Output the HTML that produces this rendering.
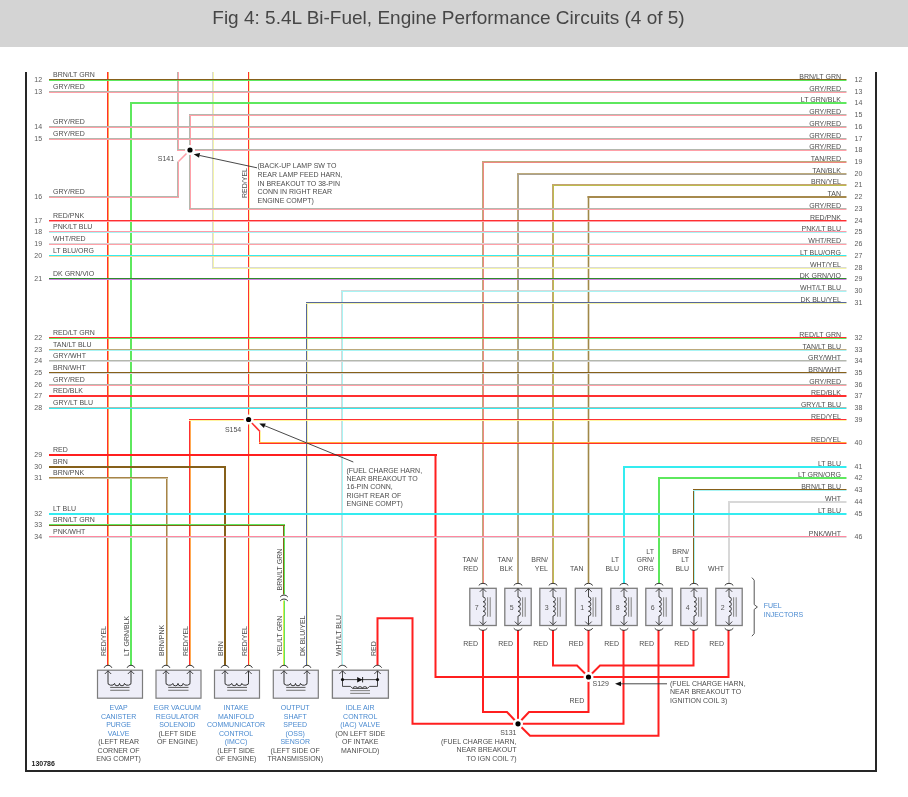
<!DOCTYPE html><html><head><meta charset="utf-8"><title>Fig 4</title><style>
html,body{margin:0;padding:0;background:#fff;width:908px;height:797px;overflow:hidden}
#hdr{position:absolute;left:0;top:0;width:908px;height:47px;background:#d4d4d4}
#hdr h1{margin:0;position:absolute;left:-5.5px;top:8px;width:908px;text-align:center;font:400 19px/1 "Liberation Sans",sans-serif;color:#464646;white-space:nowrap}
svg{position:absolute;left:0;top:0}
svg text{font-family:"Liberation Sans",sans-serif}
</style></head><body>
<div id="hdr"><h1>Fig 4: 5.4L Bi-Fuel, Engine Performance Circuits (4 of 5)</h1></div>
<svg width="908" height="797" viewBox="0 0 908 797" shape-rendering="auto">
<path d="M26,72 V771 H876 V72" fill="none" stroke="#262626" stroke-width="2"/>
<polyline points="377.50,665.50 377.50,618.30 412.50,618.30 412.50,723.80 518.00,723.80" fill="none" stroke="#ff1f1f" stroke-width="2" stroke-linejoin="miter"/>
<polyline points="435.50,455.00 435.50,677.00 588.50,677.00" fill="none" stroke="#ff1f1f" stroke-width="2" stroke-linejoin="miter"/>
<polyline points="483.00,630.00 483.00,712.00 507.00,712.00 518.00,723.80" fill="none" stroke="#ff1f1f" stroke-width="2" stroke-linejoin="miter"/>
<polyline points="518.00,630.00 518.00,723.80" fill="none" stroke="#ff1f1f" stroke-width="2" stroke-linejoin="miter"/>
<polyline points="553.00,630.00 553.00,665.50 577.00,665.50 588.50,677.00" fill="none" stroke="#ff1f1f" stroke-width="2" stroke-linejoin="miter"/>
<polyline points="588.50,630.00 588.50,677.00" fill="none" stroke="#ff1f1f" stroke-width="2" stroke-linejoin="miter"/>
<polyline points="623.50,630.00 623.50,723.80 518.00,723.80" fill="none" stroke="#ff1f1f" stroke-width="2" stroke-linejoin="miter"/>
<polyline points="658.50,630.00 658.50,735.80 530.00,735.80 518.00,723.80" fill="none" stroke="#ff1f1f" stroke-width="2" stroke-linejoin="miter"/>
<polyline points="693.50,630.00 693.50,665.50 600.00,665.50 588.50,677.00" fill="none" stroke="#ff1f1f" stroke-width="2" stroke-linejoin="miter"/>
<polyline points="728.50,630.00 728.50,677.00 588.50,677.00" fill="none" stroke="#ff1f1f" stroke-width="2" stroke-linejoin="miter"/>
<polyline points="588.50,677.00 588.50,712.00 529.00,712.00 518.00,723.80" fill="none" stroke="#ff1f1f" stroke-width="2" stroke-linejoin="miter"/>
<rect x="107.00" y="72.00" width="1" height="593.50" fill="#ff3030"/>
<rect x="108.00" y="72.00" width="1" height="593.50" fill="#ffa850"/>
<rect x="130.00" y="102.00" width="1" height="563.50" fill="#5ee85e"/>
<rect x="131.00" y="102.00" width="1" height="563.50" fill="#5ee85e"/>
<rect x="166.00" y="477.00" width="1" height="188.50" fill="#a88448"/>
<rect x="167.00" y="477.00" width="1" height="188.50" fill="#cdbf9c"/>
<rect x="177.00" y="72.00" width="1" height="79.00" fill="#b4b8ae"/>
<rect x="178.00" y="72.00" width="1" height="79.00" fill="#ffa0a8"/>
<rect x="189.00" y="114.00" width="1" height="96.00" fill="#b4b8ae"/>
<rect x="190.00" y="114.00" width="1" height="96.00" fill="#ffa0a8"/>
<rect x="177.00" y="161.50" width="1" height="36.50" fill="#b4b8ae"/>
<rect x="178.00" y="161.50" width="1" height="36.50" fill="#ffa0a8"/>
<rect x="212.00" y="72.00" width="1" height="197.00" fill="#d8d8d8"/>
<rect x="213.00" y="72.00" width="1" height="197.00" fill="#f4f4a8"/>
<rect x="224.00" y="466.00" width="1" height="199.50" fill="#86601a"/>
<rect x="225.00" y="466.00" width="1" height="199.50" fill="#86601a"/>
<rect x="248.00" y="72.00" width="1" height="593.50" fill="#ff3030"/>
<rect x="249.00" y="72.00" width="1" height="593.50" fill="#fff4a0"/>
<rect x="189.00" y="419.00" width="1" height="246.50" fill="#ff3030"/>
<rect x="190.00" y="419.00" width="1" height="246.50" fill="#ffa850"/>
<rect x="259.00" y="431.50" width="1" height="12.50" fill="#ff3030"/>
<rect x="260.00" y="431.50" width="1" height="12.50" fill="#fff4a0"/>
<rect x="283.00" y="524.00" width="1" height="70.50" fill="#86601a"/>
<rect x="284.00" y="524.00" width="1" height="70.50" fill="#5ee85e"/>
<rect x="283.00" y="600.50" width="1" height="65.00" fill="#e4e450"/>
<rect x="284.00" y="600.50" width="1" height="65.00" fill="#5ee85e"/>
<rect x="306.00" y="302.00" width="1" height="363.50" fill="#56669a"/>
<rect x="307.00" y="302.00" width="1" height="363.50" fill="#f4f4a8"/>
<rect x="341.00" y="290.00" width="1" height="375.50" fill="#d8d8d8"/>
<rect x="342.00" y="290.00" width="1" height="375.50" fill="#a8f4f4"/>
<rect x="482.00" y="161.00" width="1" height="422.50" fill="#bcaa7c"/>
<rect x="483.00" y="161.00" width="1" height="422.50" fill="#f08880"/>
<rect x="517.00" y="173.00" width="1" height="410.50" fill="#bcaa7c"/>
<rect x="518.00" y="173.00" width="1" height="410.50" fill="#a8a090"/>
<rect x="552.00" y="184.00" width="1" height="399.50" fill="#c4a272"/>
<rect x="553.00" y="184.00" width="1" height="399.50" fill="#bcbc50"/>
<rect x="587.70" y="196.00" width="1.6" height="387.50" fill="#a08848"/>
<rect x="623.00" y="466.00" width="1" height="117.50" fill="#34ecf0"/>
<rect x="624.00" y="466.00" width="1" height="117.50" fill="#34ecf0"/>
<rect x="658.00" y="477.00" width="1" height="106.50" fill="#5ee85e"/>
<rect x="659.00" y="477.00" width="1" height="106.50" fill="#5ee85e"/>
<rect x="693.00" y="489.00" width="1" height="94.50" fill="#86601a"/>
<rect x="694.00" y="489.00" width="1" height="94.50" fill="#a8f4f4"/>
<rect x="728.00" y="501.00" width="1" height="82.50" fill="#d8d8d8"/>
<rect x="729.00" y="501.00" width="1" height="82.50" fill="#d8d8d8"/>
<line x1="190.00" y1="150.00" x2="178.50" y2="161.50" stroke="#ffa0a8" stroke-width="1.6"/>
<line x1="249.00" y1="420.00" x2="260.00" y2="431.50" stroke="#ff3030" stroke-width="1.6"/>
<rect x="49.00" y="79.00" width="797.50" height="1" fill="#86601a"/>
<rect x="49.00" y="80.00" width="797.50" height="1" fill="#5ee85e"/>
<rect x="49.00" y="91.00" width="797.50" height="1" fill="#b4b8ae"/>
<rect x="49.00" y="92.00" width="797.50" height="1" fill="#ffa0a8"/>
<rect x="130.00" y="102.00" width="716.50" height="1" fill="#5ee85e"/>
<rect x="130.00" y="103.00" width="716.50" height="1" fill="#5ee85e"/>
<rect x="189.00" y="114.00" width="657.50" height="1" fill="#b4b8ae"/>
<rect x="189.00" y="115.00" width="657.50" height="1" fill="#ffa0a8"/>
<rect x="49.00" y="126.00" width="797.50" height="1" fill="#b4b8ae"/>
<rect x="49.00" y="127.00" width="797.50" height="1" fill="#ffa0a8"/>
<rect x="49.00" y="138.00" width="797.50" height="1" fill="#b4b8ae"/>
<rect x="49.00" y="139.00" width="797.50" height="1" fill="#ffa0a8"/>
<rect x="177.00" y="149.00" width="669.50" height="1" fill="#b4b8ae"/>
<rect x="177.00" y="150.00" width="669.50" height="1" fill="#ffa0a8"/>
<rect x="482.00" y="161.00" width="364.50" height="1" fill="#bcaa7c"/>
<rect x="482.00" y="162.00" width="364.50" height="1" fill="#f08880"/>
<rect x="517.00" y="173.00" width="329.50" height="1" fill="#bcaa7c"/>
<rect x="517.00" y="174.00" width="329.50" height="1" fill="#a8a090"/>
<rect x="552.00" y="184.00" width="294.50" height="1" fill="#c4a272"/>
<rect x="552.00" y="185.00" width="294.50" height="1" fill="#bcbc50"/>
<rect x="49.00" y="196.00" width="130.00" height="1" fill="#b4b8ae"/>
<rect x="49.00" y="197.00" width="130.00" height="1" fill="#ffa0a8"/>
<rect x="587.50" y="196.00" width="259.00" height="1" fill="#a68a4e"/>
<rect x="587.50" y="197.00" width="259.00" height="1" fill="#a68a4e"/>
<rect x="189.00" y="208.00" width="657.50" height="1" fill="#b4b8ae"/>
<rect x="189.00" y="209.00" width="657.50" height="1" fill="#ffa0a8"/>
<rect x="49.00" y="220.00" width="797.50" height="1" fill="#ff3030"/>
<rect x="49.00" y="221.00" width="797.50" height="1" fill="#ffa0a8"/>
<rect x="49.00" y="231.00" width="797.50" height="1" fill="#ff9aa8"/>
<rect x="49.00" y="232.00" width="797.50" height="1" fill="#a8f4f4"/>
<rect x="49.00" y="243.00" width="797.50" height="1" fill="#d8d8d8"/>
<rect x="49.00" y="244.00" width="797.50" height="1" fill="#ffa0a8"/>
<rect x="49.00" y="255.00" width="797.50" height="1" fill="#34ecf0"/>
<rect x="49.00" y="256.00" width="797.50" height="1" fill="#ffd49a"/>
<rect x="212.00" y="267.00" width="634.50" height="1" fill="#d8d8d8"/>
<rect x="212.00" y="268.00" width="634.50" height="1" fill="#f4f4a8"/>
<rect x="49.00" y="278.00" width="797.50" height="1" fill="#2e8a2e"/>
<rect x="49.00" y="279.00" width="797.50" height="1" fill="#cc80dc"/>
<rect x="341.00" y="290.00" width="505.50" height="1" fill="#d8d8d8"/>
<rect x="341.00" y="291.00" width="505.50" height="1" fill="#a8f4f4"/>
<rect x="306.00" y="302.00" width="540.50" height="1" fill="#56669a"/>
<rect x="306.00" y="303.00" width="540.50" height="1" fill="#f4f4a8"/>
<rect x="49.00" y="337.00" width="797.50" height="1" fill="#ff3030"/>
<rect x="49.00" y="338.00" width="797.50" height="1" fill="#5ee85e"/>
<rect x="49.00" y="349.00" width="797.50" height="1" fill="#bcaa7c"/>
<rect x="49.00" y="350.00" width="797.50" height="1" fill="#a8f4f4"/>
<rect x="49.00" y="360.00" width="797.50" height="1" fill="#b4b8ae"/>
<rect x="49.00" y="361.00" width="797.50" height="1" fill="#d8d8d8"/>
<rect x="49.00" y="372.00" width="797.50" height="1" fill="#86601a"/>
<rect x="49.00" y="373.00" width="797.50" height="1" fill="#d8d8d8"/>
<rect x="49.00" y="384.00" width="797.50" height="1" fill="#b4b8ae"/>
<rect x="49.00" y="385.00" width="797.50" height="1" fill="#ffa0a8"/>
<rect x="49.00" y="395.00" width="797.50" height="1" fill="#ff3030"/>
<rect x="49.00" y="396.00" width="797.50" height="1" fill="#ff3030"/>
<rect x="49.00" y="407.00" width="797.50" height="1" fill="#b4b8ae"/>
<rect x="49.00" y="408.00" width="797.50" height="1" fill="#34ecf0"/>
<rect x="189.00" y="419.00" width="657.50" height="1" fill="#ff3030"/>
<rect x="189.00" y="420.00" width="657.50" height="1" fill="#fff4a0"/>
<rect x="259.00" y="442.00" width="587.50" height="1" fill="#ffb040"/>
<rect x="259.00" y="443.00" width="587.50" height="1" fill="#ff3030"/>
<rect x="49.00" y="454.00" width="388.00" height="1" fill="#ff1f1f"/>
<rect x="49.00" y="455.00" width="388.00" height="1" fill="#ff1f1f"/>
<rect x="49.00" y="466.00" width="177.00" height="1" fill="#86601a"/>
<rect x="49.00" y="467.00" width="177.00" height="1" fill="#86601a"/>
<rect x="623.00" y="466.00" width="223.50" height="1" fill="#34ecf0"/>
<rect x="623.00" y="467.00" width="223.50" height="1" fill="#34ecf0"/>
<rect x="49.00" y="477.00" width="119.00" height="1" fill="#a88448"/>
<rect x="49.00" y="478.00" width="119.00" height="1" fill="#cdbf9c"/>
<rect x="658.00" y="477.00" width="188.50" height="1" fill="#5ee85e"/>
<rect x="658.00" y="478.00" width="188.50" height="1" fill="#5ee85e"/>
<rect x="693.00" y="489.00" width="153.50" height="1" fill="#86601a"/>
<rect x="693.00" y="490.00" width="153.50" height="1" fill="#a8f4f4"/>
<rect x="728.00" y="501.00" width="118.50" height="1" fill="#d8d8d8"/>
<rect x="728.00" y="502.00" width="118.50" height="1" fill="#d8d8d8"/>
<rect x="49.00" y="513.00" width="797.50" height="1" fill="#34ecf0"/>
<rect x="49.00" y="514.00" width="797.50" height="1" fill="#34ecf0"/>
<rect x="49.00" y="524.00" width="236.00" height="1" fill="#5ee85e"/>
<rect x="49.00" y="525.00" width="236.00" height="1" fill="#86601a"/>
<rect x="49.00" y="536.00" width="797.50" height="1" fill="#ff88a0"/>
<rect x="49.00" y="537.00" width="797.50" height="1" fill="#d8d8d8"/>
<circle cx="190" cy="150" r="5" fill="#fff"/>
<circle cx="190" cy="150" r="2.6" fill="#000"/>
<circle cx="248.6" cy="419.5" r="5" fill="#fff"/>
<circle cx="248.6" cy="419.5" r="2.6" fill="#000"/>
<circle cx="588.5" cy="677" r="5" fill="#fff"/>
<circle cx="588.5" cy="677" r="2.6" fill="#000"/>
<circle cx="518" cy="723.8" r="5" fill="#fff"/>
<circle cx="518" cy="723.8" r="2.6" fill="#000"/>
<line x1="257" y1="167.8" x2="199.57" y2="155.46" stroke="#333" stroke-width="0.9"/>
<polygon points="193.7,154.2 200.07,153.11 199.06,157.81" fill="#111"/>
<line x1="353.3" y1="462" x2="264.85" y2="425.77" stroke="#333" stroke-width="0.9"/>
<polygon points="259.3,423.5 265.76,423.55 263.94,428.00" fill="#111"/>
<line x1="667" y1="683.8" x2="621.00" y2="683.80" stroke="#333" stroke-width="0.9"/>
<polygon points="615,683.8 621.00,681.40 621.00,686.20" fill="#111"/>
<text x="841.00" y="79.00" font-size="7" fill="#4d4d4d" text-anchor="end">BRN/LT GRN</text>
<text x="854.50" y="81.60" font-size="7" fill="#5c5c5c" text-anchor="start">12</text>
<text x="841.00" y="91.00" font-size="7" fill="#4d4d4d" text-anchor="end">GRY/RED</text>
<text x="854.50" y="93.60" font-size="7" fill="#5c5c5c" text-anchor="start">13</text>
<text x="841.00" y="102.00" font-size="7" fill="#4d4d4d" text-anchor="end">LT GRN/BLK</text>
<text x="854.50" y="104.60" font-size="7" fill="#5c5c5c" text-anchor="start">14</text>
<text x="841.00" y="114.00" font-size="7" fill="#4d4d4d" text-anchor="end">GRY/RED</text>
<text x="854.50" y="116.60" font-size="7" fill="#5c5c5c" text-anchor="start">15</text>
<text x="841.00" y="126.00" font-size="7" fill="#4d4d4d" text-anchor="end">GRY/RED</text>
<text x="854.50" y="128.60" font-size="7" fill="#5c5c5c" text-anchor="start">16</text>
<text x="841.00" y="138.00" font-size="7" fill="#4d4d4d" text-anchor="end">GRY/RED</text>
<text x="854.50" y="140.60" font-size="7" fill="#5c5c5c" text-anchor="start">17</text>
<text x="841.00" y="149.00" font-size="7" fill="#4d4d4d" text-anchor="end">GRY/RED</text>
<text x="854.50" y="151.60" font-size="7" fill="#5c5c5c" text-anchor="start">18</text>
<text x="841.00" y="161.00" font-size="7" fill="#4d4d4d" text-anchor="end">TAN/RED</text>
<text x="854.50" y="163.60" font-size="7" fill="#5c5c5c" text-anchor="start">19</text>
<text x="841.00" y="173.00" font-size="7" fill="#4d4d4d" text-anchor="end">TAN/BLK</text>
<text x="854.50" y="175.60" font-size="7" fill="#5c5c5c" text-anchor="start">20</text>
<text x="841.00" y="184.00" font-size="7" fill="#4d4d4d" text-anchor="end">BRN/YEL</text>
<text x="854.50" y="186.60" font-size="7" fill="#5c5c5c" text-anchor="start">21</text>
<text x="841.00" y="196.00" font-size="7" fill="#4d4d4d" text-anchor="end">TAN</text>
<text x="854.50" y="198.60" font-size="7" fill="#5c5c5c" text-anchor="start">22</text>
<text x="841.00" y="208.00" font-size="7" fill="#4d4d4d" text-anchor="end">GRY/RED</text>
<text x="854.50" y="210.60" font-size="7" fill="#5c5c5c" text-anchor="start">23</text>
<text x="841.00" y="220.00" font-size="7" fill="#4d4d4d" text-anchor="end">RED/PNK</text>
<text x="854.50" y="222.60" font-size="7" fill="#5c5c5c" text-anchor="start">24</text>
<text x="841.00" y="231.00" font-size="7" fill="#4d4d4d" text-anchor="end">PNK/LT BLU</text>
<text x="854.50" y="233.60" font-size="7" fill="#5c5c5c" text-anchor="start">25</text>
<text x="841.00" y="243.00" font-size="7" fill="#4d4d4d" text-anchor="end">WHT/RED</text>
<text x="854.50" y="245.60" font-size="7" fill="#5c5c5c" text-anchor="start">26</text>
<text x="841.00" y="255.00" font-size="7" fill="#4d4d4d" text-anchor="end">LT BLU/ORG</text>
<text x="854.50" y="257.60" font-size="7" fill="#5c5c5c" text-anchor="start">27</text>
<text x="841.00" y="267.00" font-size="7" fill="#4d4d4d" text-anchor="end">WHT/YEL</text>
<text x="854.50" y="269.60" font-size="7" fill="#5c5c5c" text-anchor="start">28</text>
<text x="841.00" y="278.00" font-size="7" fill="#4d4d4d" text-anchor="end">DK GRN/VIO</text>
<text x="854.50" y="280.60" font-size="7" fill="#5c5c5c" text-anchor="start">29</text>
<text x="841.00" y="290.00" font-size="7" fill="#4d4d4d" text-anchor="end">WHT/LT BLU</text>
<text x="854.50" y="292.60" font-size="7" fill="#5c5c5c" text-anchor="start">30</text>
<text x="841.00" y="302.00" font-size="7" fill="#4d4d4d" text-anchor="end">DK BLU/YEL</text>
<text x="854.50" y="304.60" font-size="7" fill="#5c5c5c" text-anchor="start">31</text>
<text x="841.00" y="337.00" font-size="7" fill="#4d4d4d" text-anchor="end">RED/LT GRN</text>
<text x="854.50" y="339.60" font-size="7" fill="#5c5c5c" text-anchor="start">32</text>
<text x="841.00" y="349.00" font-size="7" fill="#4d4d4d" text-anchor="end">TAN/LT BLU</text>
<text x="854.50" y="351.60" font-size="7" fill="#5c5c5c" text-anchor="start">33</text>
<text x="841.00" y="360.00" font-size="7" fill="#4d4d4d" text-anchor="end">GRY/WHT</text>
<text x="854.50" y="362.60" font-size="7" fill="#5c5c5c" text-anchor="start">34</text>
<text x="841.00" y="372.00" font-size="7" fill="#4d4d4d" text-anchor="end">BRN/WHT</text>
<text x="854.50" y="374.60" font-size="7" fill="#5c5c5c" text-anchor="start">35</text>
<text x="841.00" y="384.00" font-size="7" fill="#4d4d4d" text-anchor="end">GRY/RED</text>
<text x="854.50" y="386.60" font-size="7" fill="#5c5c5c" text-anchor="start">36</text>
<text x="841.00" y="395.00" font-size="7" fill="#4d4d4d" text-anchor="end">RED/BLK</text>
<text x="854.50" y="397.60" font-size="7" fill="#5c5c5c" text-anchor="start">37</text>
<text x="841.00" y="407.00" font-size="7" fill="#4d4d4d" text-anchor="end">GRY/LT BLU</text>
<text x="854.50" y="409.60" font-size="7" fill="#5c5c5c" text-anchor="start">38</text>
<text x="841.00" y="419.00" font-size="7" fill="#4d4d4d" text-anchor="end">RED/YEL</text>
<text x="854.50" y="421.60" font-size="7" fill="#5c5c5c" text-anchor="start">39</text>
<text x="841.00" y="442.00" font-size="7" fill="#4d4d4d" text-anchor="end">RED/YEL</text>
<text x="854.50" y="444.60" font-size="7" fill="#5c5c5c" text-anchor="start">40</text>
<text x="841.00" y="466.00" font-size="7" fill="#4d4d4d" text-anchor="end">LT BLU</text>
<text x="854.50" y="468.60" font-size="7" fill="#5c5c5c" text-anchor="start">41</text>
<text x="841.00" y="477.00" font-size="7" fill="#4d4d4d" text-anchor="end">LT GRN/ORG</text>
<text x="854.50" y="479.60" font-size="7" fill="#5c5c5c" text-anchor="start">42</text>
<text x="841.00" y="489.00" font-size="7" fill="#4d4d4d" text-anchor="end">BRN/LT BLU</text>
<text x="854.50" y="491.60" font-size="7" fill="#5c5c5c" text-anchor="start">43</text>
<text x="841.00" y="501.00" font-size="7" fill="#4d4d4d" text-anchor="end">WHT</text>
<text x="854.50" y="503.60" font-size="7" fill="#5c5c5c" text-anchor="start">44</text>
<text x="841.00" y="513.00" font-size="7" fill="#4d4d4d" text-anchor="end">LT BLU</text>
<text x="854.50" y="515.60" font-size="7" fill="#5c5c5c" text-anchor="start">45</text>
<text x="841.00" y="536.00" font-size="7" fill="#4d4d4d" text-anchor="end">PNK/WHT</text>
<text x="854.50" y="538.60" font-size="7" fill="#5c5c5c" text-anchor="start">46</text>
<text x="53.00" y="77.00" font-size="7" fill="#4d4d4d" text-anchor="start">BRN/LT GRN</text>
<text x="34.30" y="81.60" font-size="7" fill="#5c5c5c" text-anchor="start">12</text>
<text x="53.00" y="89.00" font-size="7" fill="#4d4d4d" text-anchor="start">GRY/RED</text>
<text x="34.30" y="93.60" font-size="7" fill="#5c5c5c" text-anchor="start">13</text>
<text x="53.00" y="124.00" font-size="7" fill="#4d4d4d" text-anchor="start">GRY/RED</text>
<text x="34.30" y="128.60" font-size="7" fill="#5c5c5c" text-anchor="start">14</text>
<text x="53.00" y="136.00" font-size="7" fill="#4d4d4d" text-anchor="start">GRY/RED</text>
<text x="34.30" y="140.60" font-size="7" fill="#5c5c5c" text-anchor="start">15</text>
<text x="53.00" y="194.00" font-size="7" fill="#4d4d4d" text-anchor="start">GRY/RED</text>
<text x="34.30" y="198.60" font-size="7" fill="#5c5c5c" text-anchor="start">16</text>
<text x="53.00" y="218.00" font-size="7" fill="#4d4d4d" text-anchor="start">RED/PNK</text>
<text x="34.30" y="222.60" font-size="7" fill="#5c5c5c" text-anchor="start">17</text>
<text x="53.00" y="229.00" font-size="7" fill="#4d4d4d" text-anchor="start">PNK/LT BLU</text>
<text x="34.30" y="233.60" font-size="7" fill="#5c5c5c" text-anchor="start">18</text>
<text x="53.00" y="241.00" font-size="7" fill="#4d4d4d" text-anchor="start">WHT/RED</text>
<text x="34.30" y="245.60" font-size="7" fill="#5c5c5c" text-anchor="start">19</text>
<text x="53.00" y="253.00" font-size="7" fill="#4d4d4d" text-anchor="start">LT BLU/ORG</text>
<text x="34.30" y="257.60" font-size="7" fill="#5c5c5c" text-anchor="start">20</text>
<text x="53.00" y="276.00" font-size="7" fill="#4d4d4d" text-anchor="start">DK GRN/VIO</text>
<text x="34.30" y="280.60" font-size="7" fill="#5c5c5c" text-anchor="start">21</text>
<text x="53.00" y="335.00" font-size="7" fill="#4d4d4d" text-anchor="start">RED/LT GRN</text>
<text x="34.30" y="339.60" font-size="7" fill="#5c5c5c" text-anchor="start">22</text>
<text x="53.00" y="347.00" font-size="7" fill="#4d4d4d" text-anchor="start">TAN/LT BLU</text>
<text x="34.30" y="351.60" font-size="7" fill="#5c5c5c" text-anchor="start">23</text>
<text x="53.00" y="358.00" font-size="7" fill="#4d4d4d" text-anchor="start">GRY/WHT</text>
<text x="34.30" y="362.60" font-size="7" fill="#5c5c5c" text-anchor="start">24</text>
<text x="53.00" y="370.00" font-size="7" fill="#4d4d4d" text-anchor="start">BRN/WHT</text>
<text x="34.30" y="374.60" font-size="7" fill="#5c5c5c" text-anchor="start">25</text>
<text x="53.00" y="382.00" font-size="7" fill="#4d4d4d" text-anchor="start">GRY/RED</text>
<text x="34.30" y="386.60" font-size="7" fill="#5c5c5c" text-anchor="start">26</text>
<text x="53.00" y="393.00" font-size="7" fill="#4d4d4d" text-anchor="start">RED/BLK</text>
<text x="34.30" y="397.60" font-size="7" fill="#5c5c5c" text-anchor="start">27</text>
<text x="53.00" y="405.00" font-size="7" fill="#4d4d4d" text-anchor="start">GRY/LT BLU</text>
<text x="34.30" y="409.60" font-size="7" fill="#5c5c5c" text-anchor="start">28</text>
<text x="53.00" y="452.00" font-size="7" fill="#4d4d4d" text-anchor="start">RED</text>
<text x="34.30" y="456.60" font-size="7" fill="#5c5c5c" text-anchor="start">29</text>
<text x="53.00" y="464.00" font-size="7" fill="#4d4d4d" text-anchor="start">BRN</text>
<text x="34.30" y="468.60" font-size="7" fill="#5c5c5c" text-anchor="start">30</text>
<text x="53.00" y="475.00" font-size="7" fill="#4d4d4d" text-anchor="start">BRN/PNK</text>
<text x="34.30" y="479.60" font-size="7" fill="#5c5c5c" text-anchor="start">31</text>
<text x="53.00" y="511.00" font-size="7" fill="#4d4d4d" text-anchor="start">LT BLU</text>
<text x="34.30" y="515.60" font-size="7" fill="#5c5c5c" text-anchor="start">32</text>
<text x="53.00" y="522.00" font-size="7" fill="#4d4d4d" text-anchor="start">BRN/LT GRN</text>
<text x="34.30" y="526.60" font-size="7" fill="#5c5c5c" text-anchor="start">33</text>
<text x="53.00" y="534.00" font-size="7" fill="#4d4d4d" text-anchor="start">PNK/WHT</text>
<text x="34.30" y="538.60" font-size="7" fill="#5c5c5c" text-anchor="start">34</text>
<rect x="469.80" y="588.3" width="26.4" height="37.2" fill="#eeeef8" stroke="#7c7c7c" stroke-width="1.3"/>
<path d="M478.75,585.40 A5.35,5.35 0 0 1 487.25,585.40" fill="none" stroke="#333333" stroke-width="1"/>
<path d="M478.75,628.30 A5.35,5.35 0 0 0 487.25,628.30" fill="none" stroke="#333333" stroke-width="1"/>
<path d="M479.80,591.80 L483.00,588.60 L486.20,591.80" fill="none" stroke="#333333" stroke-width="0.9"/>
<path d="M479.80,621.60 L483.00,624.80 L486.20,621.60" fill="none" stroke="#333333" stroke-width="0.9"/>
<path d="M483.00,588.6 V597 A2.4,2.375 0 0 1 483.00,601.75 A2.4,2.375 0 0 1 483.00,606.50 A2.4,2.375 0 0 1 483.00,611.25 A2.4,2.375 0 0 1 483.00,616.00 V624.8" fill="none" stroke="#333333" stroke-width="0.9"/>
<line x1="487.60" y1="597.3" x2="487.60" y2="616.7" stroke="#8a8a8a" stroke-width="1.1"/>
<line x1="490.20" y1="597.3" x2="490.20" y2="616.7" stroke="#8a8a8a" stroke-width="1.1"/>
<text x="476.80" y="610.00" font-size="7" fill="#555" text-anchor="middle">7</text>
<text x="478.00" y="562.00" font-size="7" fill="#4d4d4d" text-anchor="end">TAN/</text>
<text x="478.00" y="570.50" font-size="7" fill="#4d4d4d" text-anchor="end">RED</text>
<text x="478.00" y="645.80" font-size="7" fill="#4d4d4d" text-anchor="end">RED</text>
<rect x="504.80" y="588.3" width="26.4" height="37.2" fill="#eeeef8" stroke="#7c7c7c" stroke-width="1.3"/>
<path d="M513.75,585.40 A5.35,5.35 0 0 1 522.25,585.40" fill="none" stroke="#333333" stroke-width="1"/>
<path d="M513.75,628.30 A5.35,5.35 0 0 0 522.25,628.30" fill="none" stroke="#333333" stroke-width="1"/>
<path d="M514.80,591.80 L518.00,588.60 L521.20,591.80" fill="none" stroke="#333333" stroke-width="0.9"/>
<path d="M514.80,621.60 L518.00,624.80 L521.20,621.60" fill="none" stroke="#333333" stroke-width="0.9"/>
<path d="M518.00,588.6 V597 A2.4,2.375 0 0 1 518.00,601.75 A2.4,2.375 0 0 1 518.00,606.50 A2.4,2.375 0 0 1 518.00,611.25 A2.4,2.375 0 0 1 518.00,616.00 V624.8" fill="none" stroke="#333333" stroke-width="0.9"/>
<line x1="522.60" y1="597.3" x2="522.60" y2="616.7" stroke="#8a8a8a" stroke-width="1.1"/>
<line x1="525.20" y1="597.3" x2="525.20" y2="616.7" stroke="#8a8a8a" stroke-width="1.1"/>
<text x="511.80" y="610.00" font-size="7" fill="#555" text-anchor="middle">5</text>
<text x="513.00" y="562.00" font-size="7" fill="#4d4d4d" text-anchor="end">TAN/</text>
<text x="513.00" y="570.50" font-size="7" fill="#4d4d4d" text-anchor="end">BLK</text>
<text x="513.00" y="645.80" font-size="7" fill="#4d4d4d" text-anchor="end">RED</text>
<rect x="539.80" y="588.3" width="26.4" height="37.2" fill="#eeeef8" stroke="#7c7c7c" stroke-width="1.3"/>
<path d="M548.75,585.40 A5.35,5.35 0 0 1 557.25,585.40" fill="none" stroke="#333333" stroke-width="1"/>
<path d="M548.75,628.30 A5.35,5.35 0 0 0 557.25,628.30" fill="none" stroke="#333333" stroke-width="1"/>
<path d="M549.80,591.80 L553.00,588.60 L556.20,591.80" fill="none" stroke="#333333" stroke-width="0.9"/>
<path d="M549.80,621.60 L553.00,624.80 L556.20,621.60" fill="none" stroke="#333333" stroke-width="0.9"/>
<path d="M553.00,588.6 V597 A2.4,2.375 0 0 1 553.00,601.75 A2.4,2.375 0 0 1 553.00,606.50 A2.4,2.375 0 0 1 553.00,611.25 A2.4,2.375 0 0 1 553.00,616.00 V624.8" fill="none" stroke="#333333" stroke-width="0.9"/>
<line x1="557.60" y1="597.3" x2="557.60" y2="616.7" stroke="#8a8a8a" stroke-width="1.1"/>
<line x1="560.20" y1="597.3" x2="560.20" y2="616.7" stroke="#8a8a8a" stroke-width="1.1"/>
<text x="546.80" y="610.00" font-size="7" fill="#555" text-anchor="middle">3</text>
<text x="548.00" y="562.00" font-size="7" fill="#4d4d4d" text-anchor="end">BRN/</text>
<text x="548.00" y="570.50" font-size="7" fill="#4d4d4d" text-anchor="end">YEL</text>
<text x="548.00" y="645.80" font-size="7" fill="#4d4d4d" text-anchor="end">RED</text>
<rect x="575.30" y="588.3" width="26.4" height="37.2" fill="#eeeef8" stroke="#7c7c7c" stroke-width="1.3"/>
<path d="M584.25,585.40 A5.35,5.35 0 0 1 592.75,585.40" fill="none" stroke="#333333" stroke-width="1"/>
<path d="M584.25,628.30 A5.35,5.35 0 0 0 592.75,628.30" fill="none" stroke="#333333" stroke-width="1"/>
<path d="M585.30,591.80 L588.50,588.60 L591.70,591.80" fill="none" stroke="#333333" stroke-width="0.9"/>
<path d="M585.30,621.60 L588.50,624.80 L591.70,621.60" fill="none" stroke="#333333" stroke-width="0.9"/>
<path d="M588.50,588.6 V597 A2.4,2.375 0 0 1 588.50,601.75 A2.4,2.375 0 0 1 588.50,606.50 A2.4,2.375 0 0 1 588.50,611.25 A2.4,2.375 0 0 1 588.50,616.00 V624.8" fill="none" stroke="#333333" stroke-width="0.9"/>
<line x1="593.10" y1="597.3" x2="593.10" y2="616.7" stroke="#8a8a8a" stroke-width="1.1"/>
<line x1="595.70" y1="597.3" x2="595.70" y2="616.7" stroke="#8a8a8a" stroke-width="1.1"/>
<text x="582.30" y="610.00" font-size="7" fill="#555" text-anchor="middle">1</text>
<text x="583.50" y="570.50" font-size="7" fill="#4d4d4d" text-anchor="end">TAN</text>
<text x="583.50" y="645.80" font-size="7" fill="#4d4d4d" text-anchor="end">RED</text>
<rect x="610.80" y="588.3" width="26.4" height="37.2" fill="#eeeef8" stroke="#7c7c7c" stroke-width="1.3"/>
<path d="M619.75,585.40 A5.35,5.35 0 0 1 628.25,585.40" fill="none" stroke="#333333" stroke-width="1"/>
<path d="M619.75,628.30 A5.35,5.35 0 0 0 628.25,628.30" fill="none" stroke="#333333" stroke-width="1"/>
<path d="M620.80,591.80 L624.00,588.60 L627.20,591.80" fill="none" stroke="#333333" stroke-width="0.9"/>
<path d="M620.80,621.60 L624.00,624.80 L627.20,621.60" fill="none" stroke="#333333" stroke-width="0.9"/>
<path d="M624.00,588.6 V597 A2.4,2.375 0 0 1 624.00,601.75 A2.4,2.375 0 0 1 624.00,606.50 A2.4,2.375 0 0 1 624.00,611.25 A2.4,2.375 0 0 1 624.00,616.00 V624.8" fill="none" stroke="#333333" stroke-width="0.9"/>
<line x1="628.60" y1="597.3" x2="628.60" y2="616.7" stroke="#8a8a8a" stroke-width="1.1"/>
<line x1="631.20" y1="597.3" x2="631.20" y2="616.7" stroke="#8a8a8a" stroke-width="1.1"/>
<text x="617.80" y="610.00" font-size="7" fill="#555" text-anchor="middle">8</text>
<text x="619.00" y="562.00" font-size="7" fill="#4d4d4d" text-anchor="end">LT</text>
<text x="619.00" y="570.50" font-size="7" fill="#4d4d4d" text-anchor="end">BLU</text>
<text x="619.00" y="645.80" font-size="7" fill="#4d4d4d" text-anchor="end">RED</text>
<rect x="645.80" y="588.3" width="26.4" height="37.2" fill="#eeeef8" stroke="#7c7c7c" stroke-width="1.3"/>
<path d="M654.75,585.40 A5.35,5.35 0 0 1 663.25,585.40" fill="none" stroke="#333333" stroke-width="1"/>
<path d="M654.75,628.30 A5.35,5.35 0 0 0 663.25,628.30" fill="none" stroke="#333333" stroke-width="1"/>
<path d="M655.80,591.80 L659.00,588.60 L662.20,591.80" fill="none" stroke="#333333" stroke-width="0.9"/>
<path d="M655.80,621.60 L659.00,624.80 L662.20,621.60" fill="none" stroke="#333333" stroke-width="0.9"/>
<path d="M659.00,588.6 V597 A2.4,2.375 0 0 1 659.00,601.75 A2.4,2.375 0 0 1 659.00,606.50 A2.4,2.375 0 0 1 659.00,611.25 A2.4,2.375 0 0 1 659.00,616.00 V624.8" fill="none" stroke="#333333" stroke-width="0.9"/>
<line x1="663.60" y1="597.3" x2="663.60" y2="616.7" stroke="#8a8a8a" stroke-width="1.1"/>
<line x1="666.20" y1="597.3" x2="666.20" y2="616.7" stroke="#8a8a8a" stroke-width="1.1"/>
<text x="652.80" y="610.00" font-size="7" fill="#555" text-anchor="middle">6</text>
<text x="654.00" y="553.50" font-size="7" fill="#4d4d4d" text-anchor="end">LT</text>
<text x="654.00" y="562.00" font-size="7" fill="#4d4d4d" text-anchor="end">GRN/</text>
<text x="654.00" y="570.50" font-size="7" fill="#4d4d4d" text-anchor="end">ORG</text>
<text x="654.00" y="645.80" font-size="7" fill="#4d4d4d" text-anchor="end">RED</text>
<rect x="680.80" y="588.3" width="26.4" height="37.2" fill="#eeeef8" stroke="#7c7c7c" stroke-width="1.3"/>
<path d="M689.75,585.40 A5.35,5.35 0 0 1 698.25,585.40" fill="none" stroke="#333333" stroke-width="1"/>
<path d="M689.75,628.30 A5.35,5.35 0 0 0 698.25,628.30" fill="none" stroke="#333333" stroke-width="1"/>
<path d="M690.80,591.80 L694.00,588.60 L697.20,591.80" fill="none" stroke="#333333" stroke-width="0.9"/>
<path d="M690.80,621.60 L694.00,624.80 L697.20,621.60" fill="none" stroke="#333333" stroke-width="0.9"/>
<path d="M694.00,588.6 V597 A2.4,2.375 0 0 1 694.00,601.75 A2.4,2.375 0 0 1 694.00,606.50 A2.4,2.375 0 0 1 694.00,611.25 A2.4,2.375 0 0 1 694.00,616.00 V624.8" fill="none" stroke="#333333" stroke-width="0.9"/>
<line x1="698.60" y1="597.3" x2="698.60" y2="616.7" stroke="#8a8a8a" stroke-width="1.1"/>
<line x1="701.20" y1="597.3" x2="701.20" y2="616.7" stroke="#8a8a8a" stroke-width="1.1"/>
<text x="687.80" y="610.00" font-size="7" fill="#555" text-anchor="middle">4</text>
<text x="689.00" y="553.50" font-size="7" fill="#4d4d4d" text-anchor="end">BRN/</text>
<text x="689.00" y="562.00" font-size="7" fill="#4d4d4d" text-anchor="end">LT</text>
<text x="689.00" y="570.50" font-size="7" fill="#4d4d4d" text-anchor="end">BLU</text>
<text x="689.00" y="645.80" font-size="7" fill="#4d4d4d" text-anchor="end">RED</text>
<rect x="715.80" y="588.3" width="26.4" height="37.2" fill="#eeeef8" stroke="#7c7c7c" stroke-width="1.3"/>
<path d="M724.75,585.40 A5.35,5.35 0 0 1 733.25,585.40" fill="none" stroke="#333333" stroke-width="1"/>
<path d="M724.75,628.30 A5.35,5.35 0 0 0 733.25,628.30" fill="none" stroke="#333333" stroke-width="1"/>
<path d="M725.80,591.80 L729.00,588.60 L732.20,591.80" fill="none" stroke="#333333" stroke-width="0.9"/>
<path d="M725.80,621.60 L729.00,624.80 L732.20,621.60" fill="none" stroke="#333333" stroke-width="0.9"/>
<path d="M729.00,588.6 V597 A2.4,2.375 0 0 1 729.00,601.75 A2.4,2.375 0 0 1 729.00,606.50 A2.4,2.375 0 0 1 729.00,611.25 A2.4,2.375 0 0 1 729.00,616.00 V624.8" fill="none" stroke="#333333" stroke-width="0.9"/>
<line x1="733.60" y1="597.3" x2="733.60" y2="616.7" stroke="#8a8a8a" stroke-width="1.1"/>
<line x1="736.20" y1="597.3" x2="736.20" y2="616.7" stroke="#8a8a8a" stroke-width="1.1"/>
<text x="722.80" y="610.00" font-size="7" fill="#555" text-anchor="middle">2</text>
<text x="724.00" y="570.50" font-size="7" fill="#4d4d4d" text-anchor="end">WHT</text>
<text x="724.00" y="645.80" font-size="7" fill="#4d4d4d" text-anchor="end">RED</text>
<path d="M751.9,577.6 L754.2,580.2 V604.6 L757.4,607 L754.2,609.4 V633.6 L751.9,636.2" fill="none" stroke="#555" stroke-width="1"/>
<text x="763.70" y="608.00" font-size="7" fill="#4a8ad0" text-anchor="start">FUEL</text>
<text x="763.70" y="616.80" font-size="7" fill="#4a8ad0" text-anchor="start">INJECTORS</text>
<rect x="97.50" y="670.2" width="45.00" height="28" fill="#eeeef8" stroke="#7c7c7c" stroke-width="1.2"/>
<path d="M104.10,667.80 A4.22,4.22 0 0 1 111.90,667.80" fill="none" stroke="#333333" stroke-width="1"/>
<path d="M127.10,667.80 A4.22,4.22 0 0 1 134.90,667.80" fill="none" stroke="#333333" stroke-width="1"/>
<path d="M104.80,674.00 L108.00,670.80 L111.20,674.00" fill="none" stroke="#333333" stroke-width="0.9"/>
<path d="M127.80,674.00 L131.00,670.80 L134.20,674.00" fill="none" stroke="#333333" stroke-width="0.9"/>
<path d="M108.00,670.8 V682.2 A3.28,2.4 0 0 0 114.56,683.40 A2.47,2.4 0 0 0 119.50,683.40 A2.47,2.4 0 0 0 124.44,683.40 A3.28,2.4 0 0 0 131.00,682.20 V670.8" fill="none" stroke="#333333" stroke-width="1"/>
<line x1="110.20" y1="687.4" x2="129.50" y2="687.4" stroke="#5a5a5a" stroke-width="1"/>
<line x1="110.20" y1="690.3" x2="129.50" y2="690.3" stroke="#7a7a7a" stroke-width="1.1"/>
<rect x="156.00" y="670.2" width="45.00" height="28" fill="#eeeef8" stroke="#7c7c7c" stroke-width="1.2"/>
<path d="M162.10,667.80 A4.22,4.22 0 0 1 169.90,667.80" fill="none" stroke="#333333" stroke-width="1"/>
<path d="M186.10,667.80 A4.22,4.22 0 0 1 193.90,667.80" fill="none" stroke="#333333" stroke-width="1"/>
<path d="M162.80,674.00 L166.00,670.80 L169.20,674.00" fill="none" stroke="#333333" stroke-width="0.9"/>
<path d="M186.80,674.00 L190.00,670.80 L193.20,674.00" fill="none" stroke="#333333" stroke-width="0.9"/>
<path d="M166.00,670.8 V682.2 A3.42,2.4 0 0 0 172.84,683.40 A2.58,2.4 0 0 0 178.00,683.40 A2.58,2.4 0 0 0 183.16,683.40 A3.42,2.4 0 0 0 190.00,682.20 V670.8" fill="none" stroke="#333333" stroke-width="1"/>
<line x1="168.20" y1="687.4" x2="188.50" y2="687.4" stroke="#5a5a5a" stroke-width="1"/>
<line x1="168.20" y1="690.3" x2="188.50" y2="690.3" stroke="#7a7a7a" stroke-width="1.1"/>
<rect x="214.50" y="670.2" width="45.00" height="28" fill="#eeeef8" stroke="#7c7c7c" stroke-width="1.2"/>
<path d="M221.10,667.80 A4.22,4.22 0 0 1 228.90,667.80" fill="none" stroke="#333333" stroke-width="1"/>
<path d="M244.60,667.80 A4.22,4.22 0 0 1 252.40,667.80" fill="none" stroke="#333333" stroke-width="1"/>
<path d="M221.80,674.00 L225.00,670.80 L228.20,674.00" fill="none" stroke="#333333" stroke-width="0.9"/>
<path d="M245.30,674.00 L248.50,670.80 L251.70,674.00" fill="none" stroke="#333333" stroke-width="0.9"/>
<path d="M225.00,670.8 V682.2 A3.35,2.4 0 0 0 231.70,683.40 A2.53,2.4 0 0 0 236.75,683.40 A2.53,2.4 0 0 0 241.80,683.40 A3.35,2.4 0 0 0 248.50,682.20 V670.8" fill="none" stroke="#333333" stroke-width="1"/>
<line x1="227.20" y1="687.4" x2="247.00" y2="687.4" stroke="#5a5a5a" stroke-width="1"/>
<line x1="227.20" y1="690.3" x2="247.00" y2="690.3" stroke="#7a7a7a" stroke-width="1.1"/>
<rect x="273.30" y="670.2" width="45.00" height="28" fill="#eeeef8" stroke="#7c7c7c" stroke-width="1.2"/>
<path d="M280.10,667.80 A4.22,4.22 0 0 1 287.90,667.80" fill="none" stroke="#333333" stroke-width="1"/>
<path d="M303.10,667.80 A4.22,4.22 0 0 1 310.90,667.80" fill="none" stroke="#333333" stroke-width="1"/>
<path d="M280.80,674.00 L284.00,670.80 L287.20,674.00" fill="none" stroke="#333333" stroke-width="0.9"/>
<path d="M303.80,674.00 L307.00,670.80 L310.20,674.00" fill="none" stroke="#333333" stroke-width="0.9"/>
<path d="M284.00,670.8 V682.2 A3.28,2.4 0 0 0 290.56,683.40 A2.47,2.4 0 0 0 295.50,683.40 A2.47,2.4 0 0 0 300.44,683.40 A3.28,2.4 0 0 0 307.00,682.20 V670.8" fill="none" stroke="#333333" stroke-width="1"/>
<line x1="286.20" y1="687.4" x2="305.50" y2="687.4" stroke="#5a5a5a" stroke-width="1"/>
<line x1="286.20" y1="690.3" x2="305.50" y2="690.3" stroke="#7a7a7a" stroke-width="1.1"/>
<rect x="332.4" y="670.2" width="56" height="28" fill="#eeeef8" stroke="#7c7c7c" stroke-width="1.3"/>
<path d="M338.20,667.70 A5.05,5.05 0 0 1 346.80,667.70" fill="none" stroke="#333333" stroke-width="1"/>
<path d="M373.30,667.70 A4.88,4.88 0 0 1 381.70,667.70" fill="none" stroke="#333333" stroke-width="1"/>
<path d="M339.30,674.00 L342.50,670.80 L345.70,674.00" fill="none" stroke="#333333" stroke-width="0.9"/>
<path d="M374.30,674.00 L377.50,670.80 L380.70,674.00" fill="none" stroke="#333333" stroke-width="0.9"/>
<path d="M342.5,670.8 V686.4 H350.5 L352.5,688.4 H367.5 L369.5,686.4 H377.5 V670.8" fill="none" stroke="#333333" stroke-width="0.9"/>
<path d="M353.00,688.4 A2.2,1.8 0 0 1 357.40,688.4" fill="none" stroke="#333333" stroke-width="0.9"/>
<path d="M357.80,688.4 A2.2,1.8 0 0 1 362.20,688.4" fill="none" stroke="#333333" stroke-width="0.9"/>
<path d="M362.60,688.4 A2.2,1.8 0 0 1 367.00,688.4" fill="none" stroke="#333333" stroke-width="0.9"/>
<line x1="342.5" y1="679.6" x2="377.5" y2="679.6" stroke="#333333" stroke-width="0.9"/>
<polygon points="357.2,677 357.2,682.4 362.4,679.7" fill="#111"/>
<line x1="362.6" y1="677" x2="362.6" y2="682.4" stroke="#111" stroke-width="0.9"/>
<circle cx="342.5" cy="679.6" r="1.6" fill="#111"/><circle cx="377.5" cy="679.6" r="1.6" fill="#111"/>
<line x1="350.2" y1="690.6" x2="370" y2="690.6" stroke="#8a8a8a" stroke-width="1.1"/>
<line x1="350.2" y1="693.4" x2="370" y2="693.4" stroke="#8a8a8a" stroke-width="1.1"/>
<path d="M280.20,597.00 A4.61,4.61 0 0 1 287.80,597.00" fill="none" stroke="#333333" stroke-width="1"/>
<path d="M280.20,600.90 A4.75,4.75 0 0 1 287.80,600.90" fill="none" stroke="#333333" stroke-width="1"/>
<text transform="translate(106.30,656.00) rotate(-90)" font-size="7" fill="#4d4d4d">RED/YEL</text>
<text transform="translate(129.30,656.00) rotate(-90)" font-size="7" fill="#4d4d4d">LT GRN/BLK</text>
<text transform="translate(164.20,656.00) rotate(-90)" font-size="7" fill="#4d4d4d">BRN/PNK</text>
<text transform="translate(188.20,656.00) rotate(-90)" font-size="7" fill="#4d4d4d">RED/YEL</text>
<text transform="translate(223.00,656.00) rotate(-90)" font-size="7" fill="#4d4d4d">BRN</text>
<text transform="translate(246.70,656.00) rotate(-90)" font-size="7" fill="#4d4d4d">RED/YEL</text>
<text transform="translate(282.30,656.00) rotate(-90)" font-size="7" fill="#4d4d4d">YEL/LT GRN</text>
<text transform="translate(305.30,656.00) rotate(-90)" font-size="7" fill="#4d4d4d">DK BLU/YEL</text>
<text transform="translate(340.80,656.00) rotate(-90)" font-size="7" fill="#4d4d4d">WHT/LT BLU</text>
<text transform="translate(375.80,656.00) rotate(-90)" font-size="7" fill="#4d4d4d">RED</text>
<text transform="translate(282.30,590.50) rotate(-90)" font-size="7" fill="#4d4d4d">BRN/LT GRN</text>
<text transform="translate(247.00,198.00) rotate(-90)" font-size="7" fill="#4d4d4d">RED/YEL</text>
<text x="118.60" y="710.20" font-size="7" fill="#4a8ad0" text-anchor="middle">EVAP</text>
<text x="118.60" y="718.70" font-size="7" fill="#4a8ad0" text-anchor="middle">CANISTER</text>
<text x="118.60" y="727.20" font-size="7" fill="#4a8ad0" text-anchor="middle">PURGE</text>
<text x="118.60" y="735.70" font-size="7" fill="#4a8ad0" text-anchor="middle">VALVE</text>
<text x="118.60" y="744.20" font-size="7" fill="#4d4d4d" text-anchor="middle">(LEFT REAR</text>
<text x="118.60" y="752.70" font-size="7" fill="#4d4d4d" text-anchor="middle">CORNER OF</text>
<text x="118.60" y="761.20" font-size="7" fill="#4d4d4d" text-anchor="middle">ENG COMPT)</text>
<text x="177.30" y="710.20" font-size="7" fill="#4a8ad0" text-anchor="middle">EGR VACUUM</text>
<text x="177.30" y="718.70" font-size="7" fill="#4a8ad0" text-anchor="middle">REGULATOR</text>
<text x="177.30" y="727.20" font-size="7" fill="#4a8ad0" text-anchor="middle">SOLENOID</text>
<text x="177.30" y="735.70" font-size="7" fill="#4d4d4d" text-anchor="middle">(LEFT SIDE</text>
<text x="177.30" y="744.20" font-size="7" fill="#4d4d4d" text-anchor="middle">OF ENGINE)</text>
<text x="236.00" y="710.20" font-size="7" fill="#4a8ad0" text-anchor="middle">INTAKE</text>
<text x="236.00" y="718.70" font-size="7" fill="#4a8ad0" text-anchor="middle">MANIFOLD</text>
<text x="236.00" y="727.20" font-size="7" fill="#4a8ad0" text-anchor="middle">COMMUNICATOR</text>
<text x="236.00" y="735.70" font-size="7" fill="#4a8ad0" text-anchor="middle">CONTROL</text>
<text x="236.00" y="744.20" font-size="7" fill="#4a8ad0" text-anchor="middle">(IMCC)</text>
<text x="236.00" y="752.70" font-size="7" fill="#4d4d4d" text-anchor="middle">(LEFT SIDE</text>
<text x="236.00" y="761.20" font-size="7" fill="#4d4d4d" text-anchor="middle">OF ENGINE)</text>
<text x="295.20" y="710.20" font-size="7" fill="#4a8ad0" text-anchor="middle">OUTPUT</text>
<text x="295.20" y="718.70" font-size="7" fill="#4a8ad0" text-anchor="middle">SHAFT</text>
<text x="295.20" y="727.20" font-size="7" fill="#4a8ad0" text-anchor="middle">SPEED</text>
<text x="295.20" y="735.70" font-size="7" fill="#4a8ad0" text-anchor="middle">(OSS)</text>
<text x="295.20" y="744.20" font-size="7" fill="#4a8ad0" text-anchor="middle">SENSOR</text>
<text x="295.20" y="752.70" font-size="7" fill="#4d4d4d" text-anchor="middle">(LEFT SIDE OF</text>
<text x="295.20" y="761.20" font-size="7" fill="#4d4d4d" text-anchor="middle">TRANSMISSION)</text>
<text x="360.20" y="710.20" font-size="7" fill="#4a8ad0" text-anchor="middle">IDLE AIR</text>
<text x="360.20" y="718.70" font-size="7" fill="#4a8ad0" text-anchor="middle">CONTROL</text>
<text x="360.20" y="727.20" font-size="7" fill="#4a8ad0" text-anchor="middle">(IAC) VALVE</text>
<text x="360.20" y="735.70" font-size="7" fill="#4d4d4d" text-anchor="middle">(ON LEFT SIDE</text>
<text x="360.20" y="744.20" font-size="7" fill="#4d4d4d" text-anchor="middle">OF INTAKE</text>
<text x="360.20" y="752.70" font-size="7" fill="#4d4d4d" text-anchor="middle">MANIFOLD)</text>
<text x="257.50" y="168.30" font-size="7" fill="#4d4d4d" text-anchor="start">(BACK-UP LAMP SW TO</text>
<text x="257.50" y="176.90" font-size="7" fill="#4d4d4d" text-anchor="start">REAR LAMP FEED HARN,</text>
<text x="257.50" y="185.50" font-size="7" fill="#4d4d4d" text-anchor="start">IN BREAKOUT TO 38-PIN</text>
<text x="257.50" y="194.10" font-size="7" fill="#4d4d4d" text-anchor="start">CONN IN RIGHT REAR</text>
<text x="257.50" y="202.70" font-size="7" fill="#4d4d4d" text-anchor="start">ENGINE COMPT)</text>
<text x="346.50" y="472.50" font-size="7" fill="#4d4d4d" text-anchor="start">(FUEL CHARGE HARN,</text>
<text x="346.50" y="480.95" font-size="7" fill="#4d4d4d" text-anchor="start">NEAR BREAKOUT TO</text>
<text x="346.50" y="489.40" font-size="7" fill="#4d4d4d" text-anchor="start">16-PIN CONN,</text>
<text x="346.50" y="497.85" font-size="7" fill="#4d4d4d" text-anchor="start">RIGHT REAR OF</text>
<text x="346.50" y="506.30" font-size="7" fill="#4d4d4d" text-anchor="start">ENGINE COMPT)</text>
<text x="670.00" y="685.80" font-size="7" fill="#4d4d4d" text-anchor="start">(FUEL CHARGE HARN,</text>
<text x="670.00" y="694.30" font-size="7" fill="#4d4d4d" text-anchor="start">NEAR BREAKOUT TO</text>
<text x="670.00" y="702.80" font-size="7" fill="#4d4d4d" text-anchor="start">IGNITION COIL 3)</text>
<text x="516.50" y="735.00" font-size="7" fill="#4d4d4d" text-anchor="end">S131</text>
<text x="516.50" y="743.70" font-size="7" fill="#4d4d4d" text-anchor="end">(FUEL CHARGE HARN,</text>
<text x="516.50" y="752.40" font-size="7" fill="#4d4d4d" text-anchor="end">NEAR BREAKOUT</text>
<text x="516.50" y="761.10" font-size="7" fill="#4d4d4d" text-anchor="end">TO IGN COIL 7)</text>
<text x="157.80" y="160.80" font-size="7" fill="#4d4d4d" text-anchor="start">S141</text>
<text x="224.90" y="431.80" font-size="7" fill="#4d4d4d" text-anchor="start">S154</text>
<text x="592.50" y="685.60" font-size="7" fill="#4d4d4d" text-anchor="start">S129</text>
<text x="584.20" y="702.60" font-size="7" fill="#4d4d4d" text-anchor="end">RED</text>
<text x="31.50" y="765.50" font-size="7" fill="#222" text-anchor="start" font-weight="bold" font-size="6.5">130786</text>
</svg></body></html>
